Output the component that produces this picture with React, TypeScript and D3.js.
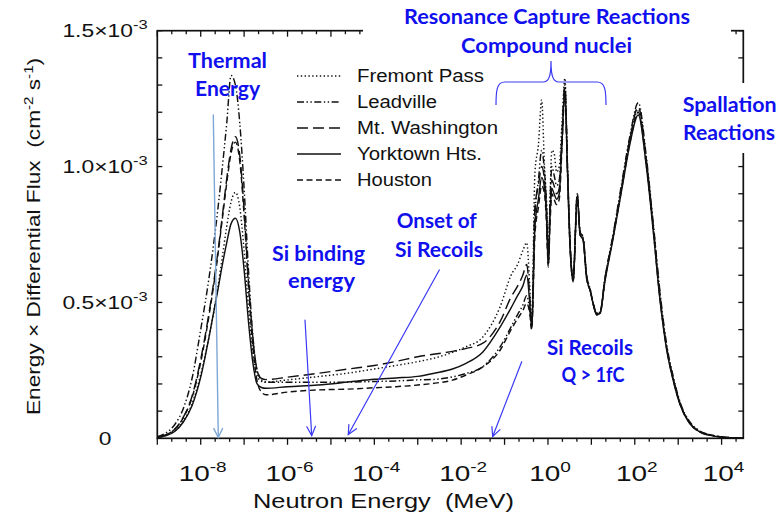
import React from 'react';
import * as d3 from 'd3';

// log10 of neutron energy (MeV) sampling grid
const logEnergy = [
  -9.0, -8.8, -8.6, -8.4, -8.2, -8.0, -7.8, -7.6, -7.5, -7.4, -7.3, -7.2, -7.1, -7.0, -6.9, -6.8, -6.7, -6.6, -6.5,
  -6.0, -5.3, -4.6, -4.0, -3.5, -3.0, -2.6, -2.2, -1.9, -1.5, -1.1,
  -0.85, -0.7, -0.58, -0.49, -0.42, -0.375,
  -0.3, -0.22, -0.145, -0.08, -0.03, 0.007, 0.05, 0.09, 0.14, 0.2, 0.26, 0.32, 0.39,
  0.45, 0.51, 0.58, 0.675, 0.74, 0.81, 0.89, 0.97, 1.04, 1.12, 1.2, 1.31, 1.5, 1.7, 1.89, 2.08, 2.27, 2.43, 2.58, 2.73, 2.89, 3.04, 3.27, 3.5, 3.8, 4.12, 4.5,
];

// Energy x differential flux, in units of 1e-3 cm^-2 s^-1
const fremontPass = [
  0.004, 0.011, 0.027, 0.063, 0.127, 0.235, 0.38, 0.56, 0.67, 0.78, 0.87, 0.905, 0.85, 0.69, 0.48, 0.32, 0.23, 0.21, 0.207,
  0.215, 0.227, 0.24, 0.255, 0.268, 0.282, 0.296, 0.316, 0.336, 0.373, 0.485,
  0.6, 0.64, 0.69, 0.72, 0.56, 0.42,
  0.98, 1.08, 1.245, 1.0, 0.85, 0.64, 0.9, 1.06, 1.05, 0.98, 1.0, 1.15, 1.325,
  1.0, 0.72, 0.585, 0.9, 0.76, 0.74, 0.6, 0.55, 0.5, 0.46, 0.465, 0.583, 0.742, 0.926, 1.098, 1.21, 1.01, 0.767, 0.52, 0.337, 0.215, 0.129, 0.055, 0.024, 0.01, 0.003, 0.001,
];
const leadville = [
  0.006, 0.02, 0.05, 0.11, 0.22, 0.4, 0.6, 0.85, 1.0, 1.16, 1.335, 1.3, 1.16, 0.92, 0.62, 0.38, 0.25, 0.215, 0.206,
  0.206, 0.206, 0.207, 0.209, 0.211, 0.215, 0.217, 0.226, 0.238, 0.264, 0.337,
  0.41, 0.455, 0.49, 0.525, 0.47, 0.405,
  0.82, 0.95, 1.06, 0.98, 0.85, 0.65, 0.88, 1.0, 0.97, 0.93, 0.95, 1.1, 1.3,
  0.99, 0.71, 0.58, 0.89, 0.75, 0.73, 0.59, 0.545, 0.495, 0.455, 0.46, 0.585, 0.75, 0.94, 1.115, 1.235, 1.03, 0.785, 0.54, 0.35, 0.225, 0.135, 0.06, 0.027, 0.011, 0.003, 0.001,
];
const mtWashington = [
  0.004, 0.013, 0.033, 0.078, 0.155, 0.29, 0.47, 0.69, 0.82, 0.955, 1.065, 1.11, 1.04, 0.84, 0.58, 0.37, 0.25, 0.22, 0.216,
  0.225, 0.239, 0.255, 0.268, 0.283, 0.3, 0.31, 0.32, 0.33, 0.35, 0.43,
  0.52, 0.56, 0.6, 0.64, 0.52, 0.41,
  0.85, 0.93, 1.0, 0.95, 0.82, 0.65, 0.85, 0.95, 0.93, 0.9, 0.92, 1.1, 1.29,
  1.0, 0.72, 0.59, 0.9, 0.76, 0.74, 0.6, 0.55, 0.5, 0.46, 0.465, 0.585, 0.745, 0.93, 1.105, 1.22, 1.02, 0.775, 0.53, 0.34, 0.218, 0.13, 0.056, 0.025, 0.01, 0.003, 0.001,
];
const yorktownHts = [
  0.003, 0.01, 0.025, 0.06, 0.12, 0.225, 0.38, 0.55, 0.64, 0.72, 0.79, 0.81, 0.76, 0.62, 0.43, 0.28, 0.2, 0.187, 0.184,
  0.19, 0.196, 0.207, 0.217, 0.222, 0.228, 0.24, 0.255, 0.275, 0.318, 0.41,
  0.48, 0.525, 0.56, 0.6, 0.5, 0.41,
  0.78, 0.88, 0.96, 0.92, 0.8, 0.64, 0.83, 0.92, 0.9, 0.88, 0.9, 1.08, 1.28,
  0.98, 0.7, 0.575, 0.89, 0.75, 0.73, 0.59, 0.545, 0.495, 0.455, 0.46, 0.575, 0.735, 0.915, 1.085, 1.19, 0.995, 0.755, 0.51, 0.33, 0.21, 0.125, 0.053, 0.023, 0.009, 0.003, 0.001,
];
const houston = [
  0.004, 0.013, 0.033, 0.076, 0.15, 0.28, 0.46, 0.68, 0.81, 0.94, 1.05, 1.09, 1.02, 0.82, 0.56, 0.34, 0.21, 0.17, 0.16,
  0.17, 0.178, 0.181, 0.186, 0.19, 0.196, 0.203, 0.214, 0.232, 0.263, 0.325,
  0.4, 0.44, 0.47, 0.497, 0.46, 0.4,
  0.75, 0.85, 0.93, 0.9, 0.78, 0.63, 0.8, 0.9, 0.88, 0.86, 0.88, 1.06, 1.27,
  0.98, 0.7, 0.58, 0.88, 0.75, 0.73, 0.59, 0.545, 0.495, 0.455, 0.46, 0.58, 0.74, 0.92, 1.09, 1.2, 1.0, 0.76, 0.515, 0.335, 0.212, 0.127, 0.054, 0.024, 0.01, 0.003, 0.001,
];

const seriesNames = ['Fremont Pass', 'Leadville', 'Mt. Washington', 'Yorktown Hts.', 'Houston'];
const seriesValues = [fremontPass, leadville, mtWashington, yorktownHts, houston];
const seriesDash = ['1.4,2.4', '7,2.5,1.4,2.5,1.4,2.5', '11,5', 'none', '6,3.5'];

const xLabelExponents = [-8, -6, -4, -2, 0, 2, 4];
const yLabelValues = [0, 0.5, 1.0, 1.5];
const yLabelMantissas = ['0', '0.5', '1.0', '1.5'];

const W = 780;
const H = 513;
const L = 157.3, R = 743.3, T = 30.7, B = 438.3;
const ink = '#111';
const blue = '#1010ee';
const arrowBlue = '#3a3af5';
const BLACKFONT = '"Liberation Sans", Arial, sans-serif';
const BLUEFONT = 'Lato, "Open Sans", sans-serif';

function Arrow({ x1, y1, x2, y2, color, width = 1.2 }: any) {
  const a = Math.atan2(y2 - y1, x2 - x1);
  const len = 10;
  const s = 0.45;
  const h1 = [x2 - len * Math.cos(a - s), y2 - len * Math.sin(a - s)];
  const h2 = [x2 - len * Math.cos(a + s), y2 - len * Math.sin(a + s)];
  return (
    <g stroke={color} strokeWidth={width} fill="none" strokeLinecap="round">
      <line x1={x1} y1={y1} x2={x2} y2={y2} />
      <polyline points={`${h1[0]},${h1[1]} ${x2},${y2} ${h2[0]},${h2[1]}`} />
    </g>
  );
}

function BlueText({ x, y, w, children }: any) {
  return (
    <text x={x} y={y} textAnchor="middle" fontFamily={BLUEFONT} fontWeight={700} fontSize={20}
      fill={blue} textLength={w} lengthAdjust="spacingAndGlyphs">{children}</text>
  );
}

export default function App() {
  const x = d3.scaleLog().domain([1e-9, Math.pow(10, 4.5)]).range([L, R]);
  const y = d3.scaleLinear().domain([0, 1.5]).range([B, T]);
  const energies = logEnergy.map((e) => Math.pow(10, e));
  const line = d3.line<number>()
    .x((_, i) => x(energies[i]))
    .y((d) => y(d))
    .curve(d3.curveMonotoneX);

  const majors = d3.range(-9, 5);
  const minors: number[] = [];
  majors.forEach((e) => {
    [1 / 3, 2 / 3].forEach((f) => { if (e + f <= 4.5) minors.push(e + f); });
  });
  const yTicks = d3.range(0, 16).map((i) => i / 10);
  const sx = 1.27;

  return (
    <svg width={W} height={H} style={{ position: 'absolute', left: 0, top: 0, background: '#fff' }}>
      <rect x={0} y={0} width={W} height={H} fill="#fff" />
      <defs>
        <clipPath id="plotclip"><rect x={L} y={T - 10} width={R - L} height={B - T + 10} /></clipPath>
      </defs>

      {/* ticks */}
      <g stroke={ink} strokeWidth={1.3}>
        {majors.map((e) => {
          const px = x(Math.pow(10, e));
          return (
            <g key={'M' + e}>
              <line x1={px} x2={px} y1={B} y2={B + 6.5} />
              <line x1={px} x2={px} y1={T} y2={T + 6} />
            </g>
          );
        })}
        {minors.map((e) => {
          const px = x(Math.pow(10, e));
          return (
            <g key={'m' + e}>
              <line x1={px} x2={px} y1={B} y2={B + 3.5} />
              <line x1={px} x2={px} y1={T} y2={T + 3.5} />
            </g>
          );
        })}
        {yTicks.map((v) => (
          <g key={'y' + v}>
            <line x1={L} x2={L + 5} y1={y(v)} y2={y(v)} />
            <line x1={R} x2={R - 5} y1={y(v)} y2={y(v)} />
          </g>
        ))}
      </g>
      <rect x={L} y={T} width={R - L} height={B - T} fill="none" stroke={ink} strokeWidth={1.7} />

      {/* curves */}
      <g clipPath="url(#plotclip)" fill="none" stroke={ink} strokeWidth={1.45}>
        {seriesValues.map((vals, i) => (
          <path key={seriesNames[i]} d={line(vals) || ''} strokeDasharray={seriesDash[i]} />
        ))}
      </g>

      {/* tick labels and titles */}
      <g fontFamily={BLACKFONT} fill={ink}>
        {xLabelExponents.map((e) => (
          <text key={'xl' + e} transform={`translate(${x(Math.pow(10, e)) + 2},481) scale(${sx},1)`}
            textAnchor="middle" fontSize={22}>
            10<tspan dy={-9} fontSize={15}>{e}</tspan>
          </text>
        ))}
        {yLabelValues.map((v, i) => (
          <text key={'yl' + v} transform={`translate(105,${y(v) + 6.5}) scale(${sx},1)`}
            textAnchor="middle" fontSize={18}>
            {i === 0 ? '0' : (
              <>
                {yLabelMantissas[i]}×10<tspan dy={-8} fontSize={13}>-3</tspan>
              </>
            )}
          </text>
        ))}
        <text x={383.5} y={507.5} textAnchor="middle" fontSize={20} textLength={261}
          lengthAdjust="spacingAndGlyphs" style={{ whiteSpace: 'pre' }}>Neutron Energy  (MeV)</text>
        <text transform={`translate(39.5,236.5) rotate(-90) scale(1.26,1)`} textAnchor="middle" fontSize={18}
          style={{ whiteSpace: 'pre' }}>
          Energy × Differential Flux  (cm<tspan dy={-7} fontSize={12}>-2</tspan><tspan dy={7}> s</tspan><tspan dy={-7} fontSize={12}>-1</tspan><tspan dy={7}>)</tspan>
        </text>
      </g>

      {/* legend */}
      <g fontFamily={BLACKFONT} fill={ink}>
        {seriesNames.map((name, i) => {
          const ly = 76 + i * 26;
          const widths = [127, 80, 141, 125, 75];
          return (
            <g key={'lg' + name}>
              <line x1={297} x2={341} y1={ly} y2={ly} stroke={ink} strokeWidth={1.4}
                strokeDasharray={seriesDash[i]} />
              <text x={357} y={ly + 6.3} fontSize={17.5} textLength={widths[i]}
                lengthAdjust="spacingAndGlyphs">{name}</text>
            </g>
          );
        })}
      </g>

      {/* annotation backgrounds */}
      <rect x={680} y={83} width={100} height={70} fill="#fff" />
      <rect x={363} y={0} width={368} height={60} fill="#fff" />

      {/* annotations */}
      <BlueText x={547} y={24} w={286}>Resonance Capture Reactions</BlueText>
      <BlueText x={546.5} y={52.5} w={171}>Compound nuclei</BlueText>
      <path d="M496,105 C496,90 497,82 505,82 L543,82 C549,82 551,76 551,61 C551,76 553,82 559,82 L597,82 C605,82 606,90 606,105"
        fill="none" stroke={arrowBlue} strokeWidth={1.2} />

      <BlueText x={227.5} y={68} w={79}>Thermal</BlueText>
      <BlueText x={227.5} y={96} w={65}>Energy</BlueText>
      <BlueText x={318.5} y={261} w={93}>Si binding</BlueText>
      <BlueText x={321.5} y={288} w={67}>energy</BlueText>
      <BlueText x={436.7} y={228} w={80}>Onset of</BlueText>
      <BlueText x={439} y={256.5} w={88}>Si Recoils</BlueText>
      <BlueText x={590} y={355} w={86}>Si Recoils</BlueText>
      <BlueText x={593} y={381.5} w={63}>Q &gt; 1fC</BlueText>
      <BlueText x={729.7} y={111.5} w={94}>Spallation</BlueText>
      <BlueText x={729} y={140} w={92}>Reactions</BlueText>

      <Arrow x1={213.3} y1={115} x2={218.3} y2={437.5} color="#7ea7d6" width={1.4} />
      <Arrow x1={305} y1={320} x2={311.7} y2={435.5} color={arrowBlue} />
      <Arrow x1={439.3} y1={270} x2={348.3} y2={434.5} color={arrowBlue} />
      <Arrow x1={521.7} y1={361.7} x2={492.7} y2={436.5} color={arrowBlue} />
    </svg>
  );
}
